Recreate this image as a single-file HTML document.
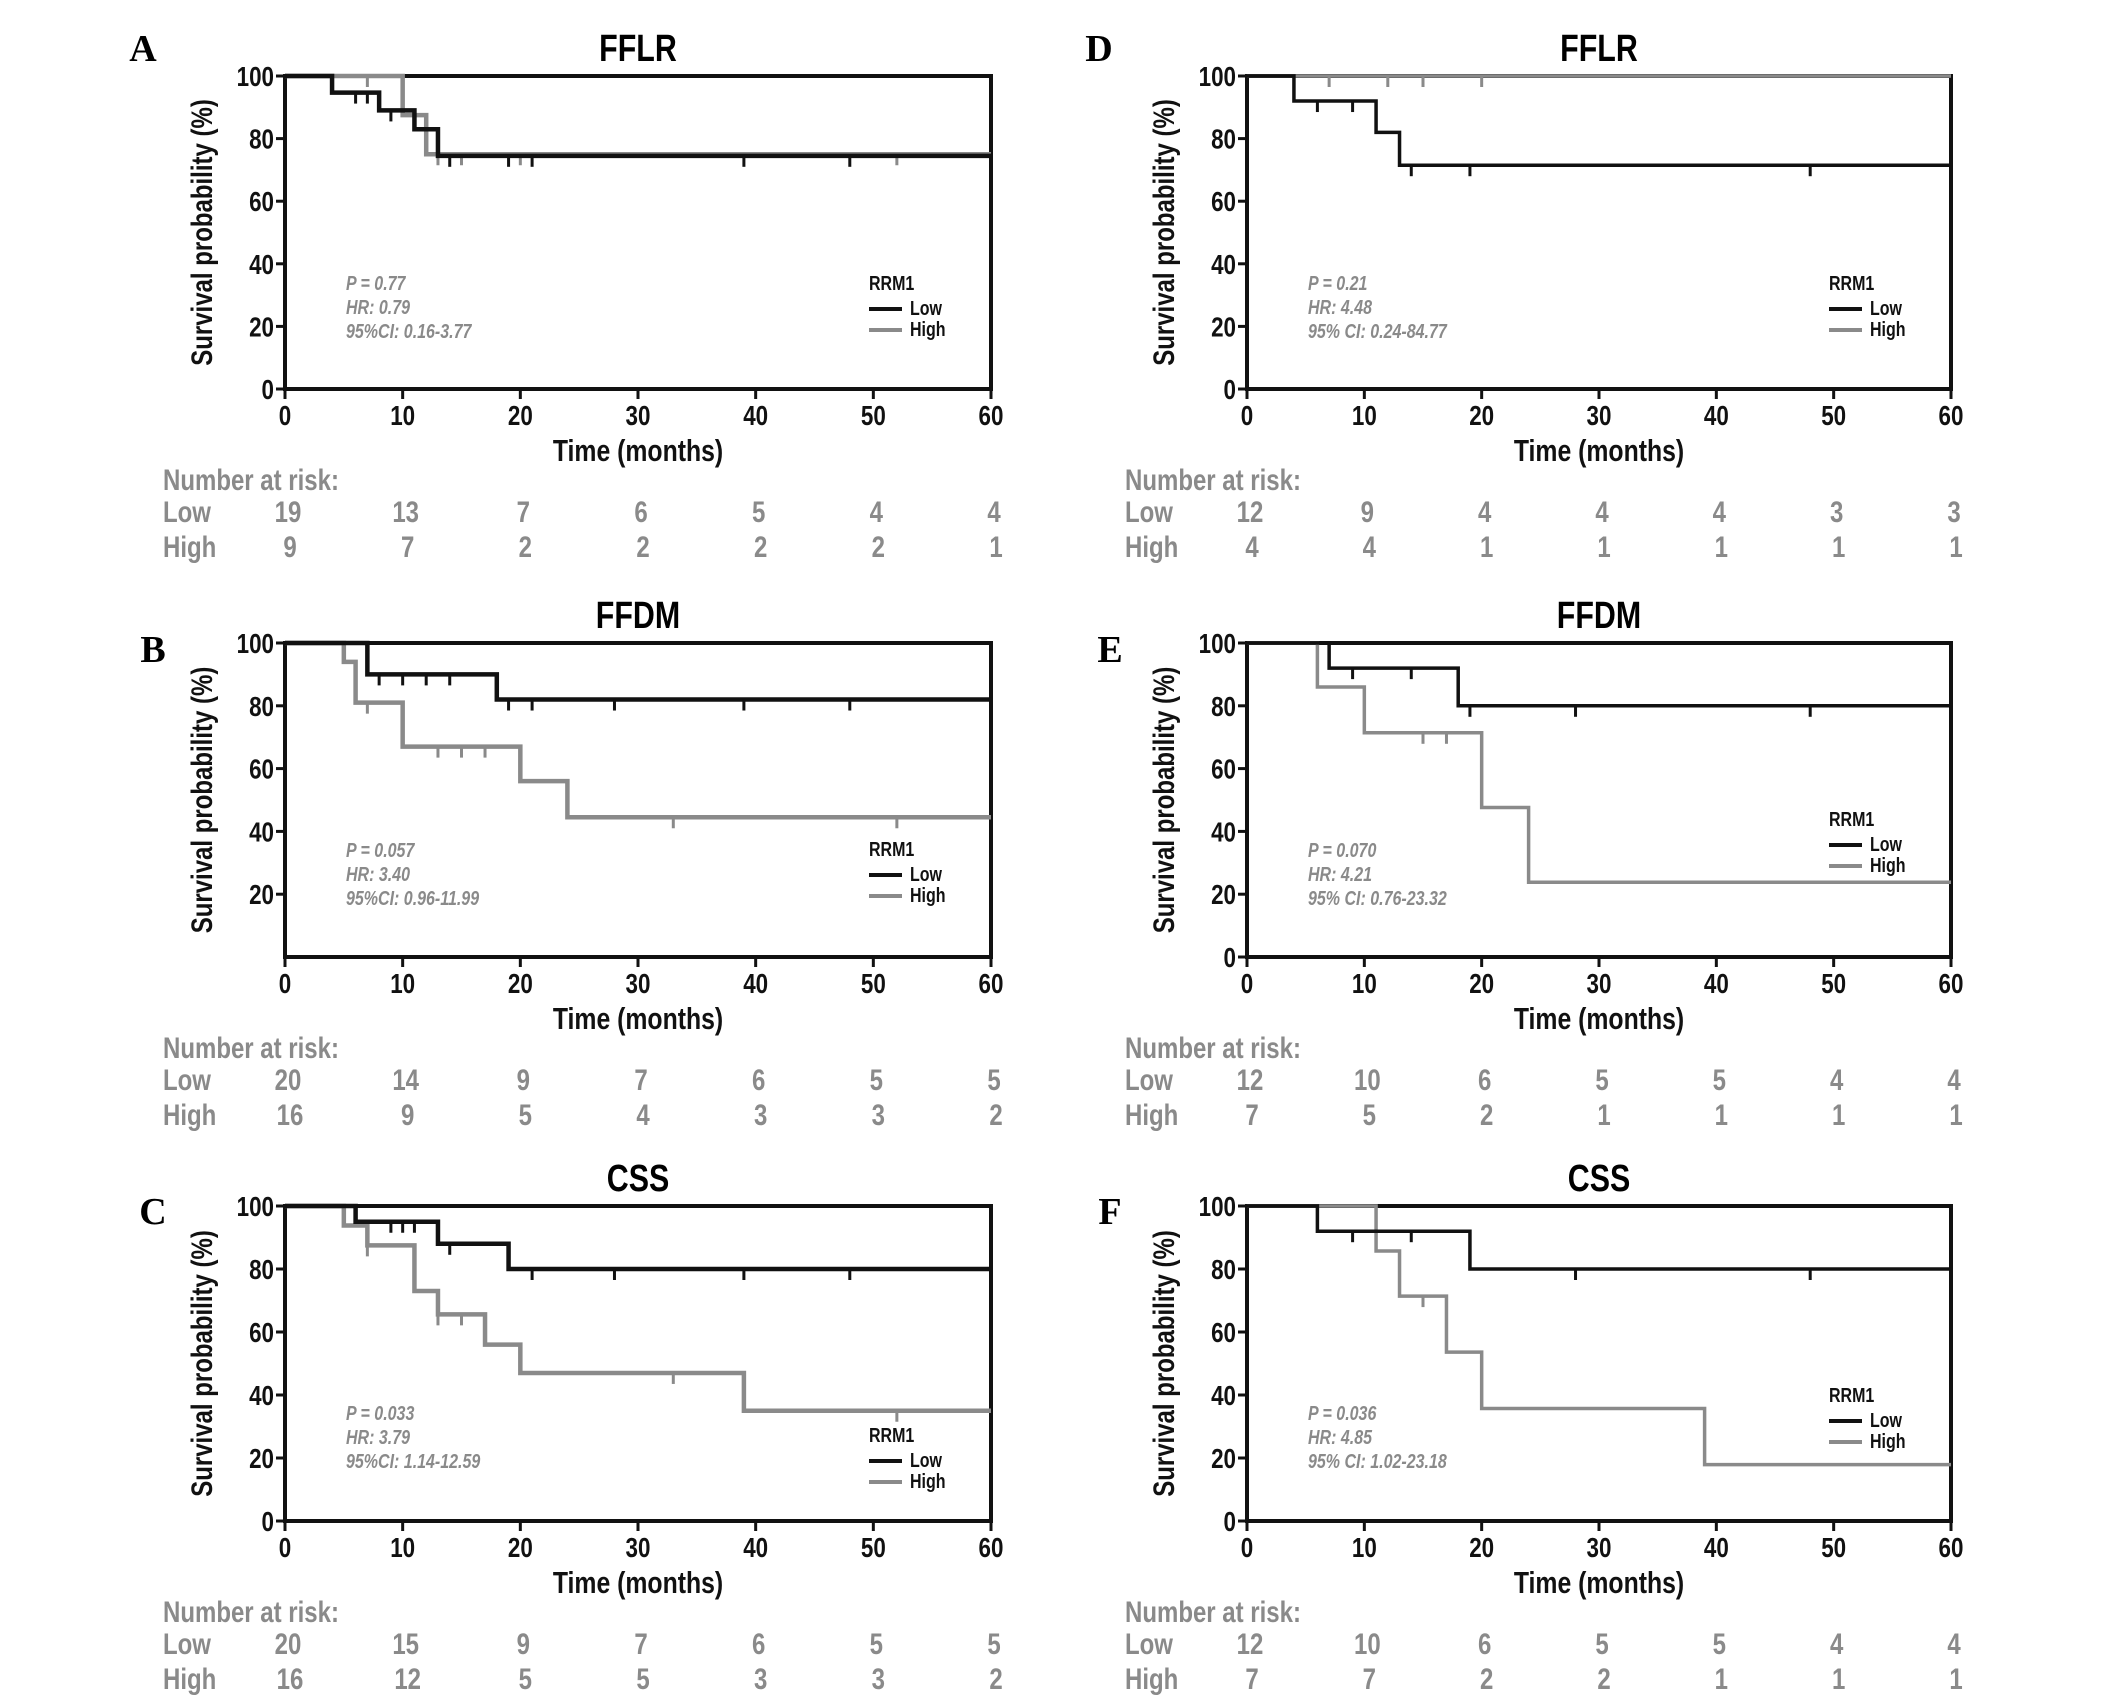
<!DOCTYPE html>
<html><head><meta charset="utf-8"><style>
html,body{margin:0;padding:0;background:#fff;}
svg{display:block;}
text{font-family:"Liberation Sans Narrow","Liberation Sans",sans-serif;font-weight:bold;}
.letter{font-family:"Liberation Serif",serif;font-weight:bold;font-size:38px;}
</style></head><body>
<svg id="fig" width="2126" height="1700" viewBox="0 0 2126 1700" xmlns="http://www.w3.org/2000/svg"></svg>
<script>
// Panel A (FFLR, left)
const aLowT=[4,8,11,13], aLowS=[94.7,89,83,74.5], aLowC=[6,7,9,14,19,21,39,48];
const aHighT=[10,12], aHighS=[87.5,75], aHighC=[7,13,15,20,52];
const aRiskLow=[19,13,7,6,5,4,4], aRiskHigh=[9,7,2,2,2,2,1];
// Panel B (FFDM, left)
const bLowT=[7,18], bLowS=[90,82], bLowC=[8,10,12,14,19,21,28,39,48];
const bHighT=[5,6,10,20,24], bHighS=[94,81,67,56,44.5], bHighC=[7,13,15,17,33,52];
const bRiskLow=[20,14,9,7,6,5,5], bRiskHigh=[16,9,5,4,3,3,2];
// Panel C (CSS, left)
const cLowT=[6,13,19], cLowS=[95,88,80], cLowC=[9,10,11,14,21,28,39,48];
const cHighT=[5,7,11,13,17,20,39], cHighS=[93.8,87.5,73,65.6,56,47,35], cHighC=[7,13,15,33,52];
const cRiskLow=[20,15,9,7,6,5,5], cRiskHigh=[16,12,5,5,3,3,2];
// Panel D (FFLR, right)
const dLowT=[4,11,13], dLowS=[92,82,71.5], dLowC=[6,9,14,19,48];
const dHighT=[], dHighS=[], dHighC=[7,12,15,20];
const dRiskLow=[12,9,4,4,4,3,3], dRiskHigh=[4,4,1,1,1,1,1];
// Panel E (FFDM, right)
const eLowT=[7,18], eLowS=[92,80], eLowC=[9,14,19,28,48];
const eHighT=[6,10,20,24], eHighS=[86,71.4,47.6,23.8], eHighC=[15,17];
const eRiskLow=[12,10,6,5,5,4,4], eRiskHigh=[7,5,2,1,1,1,1];
// Panel F (CSS, right)
const fLowT=[6,19], fLowS=[92,80], fLowC=[9,14,28,48];
const fHighT=[11,13,17,20,39], fHighS=[85.7,71.4,53.6,35.7,17.9], fHighC=[15];
const fRiskLow=[12,10,6,5,5,4,4], fRiskHigh=[7,7,2,2,1,1,1];

const xTicks=[0,10,20,30,40,50,60];
const yTicks=[0,20,40,60,80,100];

const NS='http://www.w3.org/2000/svg';
const svg=document.getElementById('fig');
const SQ=0.8;
function mk(tag,attrs,parent){const e=document.createElementNS(NS,tag);for(const k in attrs)e.setAttribute(k,attrs[k]);(parent||svg).appendChild(e);return e;}
function txt(s,attrs,parent,rot){
 const x=attrs.x,y=attrs.y;const a=Object.assign({},attrs);delete a.x;delete a.y;
 a.transform=`translate(${x} ${y})`+(rot?` rotate(${rot})`:'')+` scale(${SQ} 1)`;
 const e=mk('text',a,parent);e.textContent=s;return e;}

const panels=[
 {id:'a',L:'A',title:'FFLR',x0:285,x1:991,y100:76,y0:389,lx:143,ly:61,risk:[aRiskLow,aRiskHigh],low:[aLowT,aLowS,aLowC],high:[aHighT,aHighS,aHighC],stats:['P = 0.77','HR: 0.79','95%CI: 0.16-3.77'],legOff:157,lw:4.5,hideY0:false},
 {id:'b',L:'B',title:'FFDM',x0:285,x1:991,y100:643,y0:957,lx:153,ly:662,risk:[bRiskLow,bRiskHigh],low:[bLowT,bLowS,bLowC],high:[bHighT,bHighS,bHighC],stats:['P = 0.057','HR: 3.40','95%CI: 0.96-11.99'],legOff:156,lw:4.5,hideY0:true},
 {id:'c',L:'C',title:'CSS',x0:285,x1:991,y100:1206,y0:1521,lx:153,ly:1224,risk:[cRiskLow,cRiskHigh],low:[cLowT,cLowS,cLowC],high:[cHighT,cHighS,cHighC],stats:['P = 0.033','HR: 3.79','95%CI: 1.14-12.59'],legOff:179,lw:4.5,hideY0:false},
 {id:'d',L:'D',title:'FFLR',x0:1247,x1:1951,y100:76,y0:389,lx:1099,ly:61,risk:[dRiskLow,dRiskHigh],low:[dLowT,dLowS,dLowC],high:[dHighT,dHighS,dHighC],stats:['P = 0.21','HR: 4.48','95% CI: 0.24-84.77'],legOff:157,lw:3.5,hideY0:false},
 {id:'e',L:'E',title:'FFDM',x0:1247,x1:1951,y100:643,y0:957,lx:1110,ly:662,risk:[eRiskLow,eRiskHigh],low:[eLowT,eLowS,eLowC],high:[eHighT,eHighS,eHighC],stats:['P = 0.070','HR: 4.21','95% CI: 0.76-23.32'],legOff:126,lw:3.5,hideY0:false},
 {id:'f',L:'F',title:'CSS',x0:1247,x1:1951,y100:1206,y0:1521,lx:1110,ly:1224,risk:[fRiskLow,fRiskHigh],low:[fLowT,fLowS,fLowC],high:[fHighT,fHighS,fHighC],stats:['P = 0.036','HR: 4.85','95% CI: 1.02-23.18'],legOff:139,lw:3.5,hideY0:false}
];

panels.forEach(p=>{
 const g=mk('g',{});
 
 
 const X=t=>p.x0+(p.x1-p.x0)*t/60;
 const Y=s=>p.y0-(p.y0-p.y100)*s/100;
 const cx=(p.x0+p.x1)/2;
 const l=mk('text',{x:p.lx,y:p.ly,'text-anchor':'middle',class:'letter'},g);
 l.textContent=p.L;
 
 
 const t=txt(p.title,{x:cx,y:p.y100-15,'text-anchor':'middle','font-size':38},g);
 
 
 const fr=mk('rect',{x:p.x0,y:p.y100,width:p.x1-p.x0,height:p.y0-p.y100,fill:'none',stroke:'#111','stroke-width':4},g);
 
 
 xTicks.forEach(v=>{
  mk('line',{x1:X(v),x2:X(v),y1:p.y0,y2:p.y0+10,stroke:'#111','stroke-width':3},g);
  const e=txt(v,{x:X(v),y:p.y0+36,'text-anchor':'middle','font-size':28,fill:'#111'},g);
  
  
 });
 yTicks.forEach(v=>{
  if(v===0&&p.hideY0)return;
  mk('line',{x1:p.x0-9,x2:p.x0,y1:Y(v),y2:Y(v),stroke:'#111','stroke-width':3},g);
  const e=txt(v,{x:p.x0-11,y:Y(v)+10,'text-anchor':'end','font-size':28,fill:'#111'},g);
  
  
 });
 const xt=txt('Time (months)',{x:cx,y:p.y0+72,'text-anchor':'middle','font-size':31,fill:'#111'},g);
 
 
 const yc=(p.y0+p.y100)/2, yx=p.x0-73;
 const yt=txt('Survival probability (%)',{x:yx,y:yc,'text-anchor':'middle','font-size':30,fill:'#111'},g,-90);
 
 
 function curve(T,S,C,color,name,w){
  let d=`M${X(0)},${Y(100)}`;
  T.forEach((tt,i)=>{d+=` H${X(tt)} V${Y(S[i])}`;});
  d+=` H${X(60)}`;
  const path=mk('path',{d:d,fill:'none',stroke:color,'stroke-width':w},g);
  
  
  C.forEach(c=>{
   let sv=100;T.forEach((tt,i)=>{if(tt<=c)sv=S[i];});
   const m=mk('line',{x1:X(c),x2:X(c),y1:Y(sv),y2:Y(sv)+11,stroke:color,'stroke-width':3},g);
   
   
  });
 }
 curve(p.high[0],p.high[1],p.high[2],'#8a8a8a','high-group',p.lw);
 curve(p.low[0],p.low[1],p.low[2],'#111','low-group',p.lw);
 const sx=p.x0+61;
 p.stats.forEach((s,i)=>{
  const e=txt(s,{x:sx,y:p.y100+214+i*24,'font-size':20,fill:'#8a8a8a','font-style':'italic'},g);
  
  
 });
 const lgx=p.x1-122, ly=p.y100+p.legOff+57;
 const lg=mk('g',{},g);
 
 
 txt('RRM1',{x:lgx,y:ly,'font-size':20,fill:'#111'},lg);
 mk('line',{x1:lgx,x2:lgx+33,y1:ly+19,y2:ly+19,stroke:'#111','stroke-width':4},lg);
 const le=txt('Low',{x:lgx+41,y:ly+25,'font-size':20,fill:'#111'},lg);
 
 
 mk('line',{x1:lgx,x2:lgx+33,y1:ly+40,y2:ly+40,stroke:'#8a8a8a','stroke-width':4},lg);
 const he=txt('High',{x:lgx+41,y:ly+46,'font-size':20,fill:'#111'},lg);
 
 
 const rx=p.x0-122;
 const rt=mk('g',{},g);
 
 
 txt('Number at risk:',{x:rx,y:p.y0+101,'font-size':30,fill:'#8a8a8a'},rt);
 txt('Low',{x:rx,y:p.y0+133,'font-size':30,fill:'#8a8a8a'},rt);
 txt('High',{x:rx,y:p.y0+168,'font-size':30,fill:'#8a8a8a'},rt);
 xTicks.forEach((v,i)=>{
  txt(p.risk[0][i],{x:X(v)+3,y:p.y0+133,'text-anchor':'middle','font-size':30,fill:'#8a8a8a'},rt);
  txt(p.risk[1][i],{x:X(v)+5,y:p.y0+168,'text-anchor':'middle','font-size':30,fill:'#8a8a8a'},rt);
 });
});
</script>
</body></html>
